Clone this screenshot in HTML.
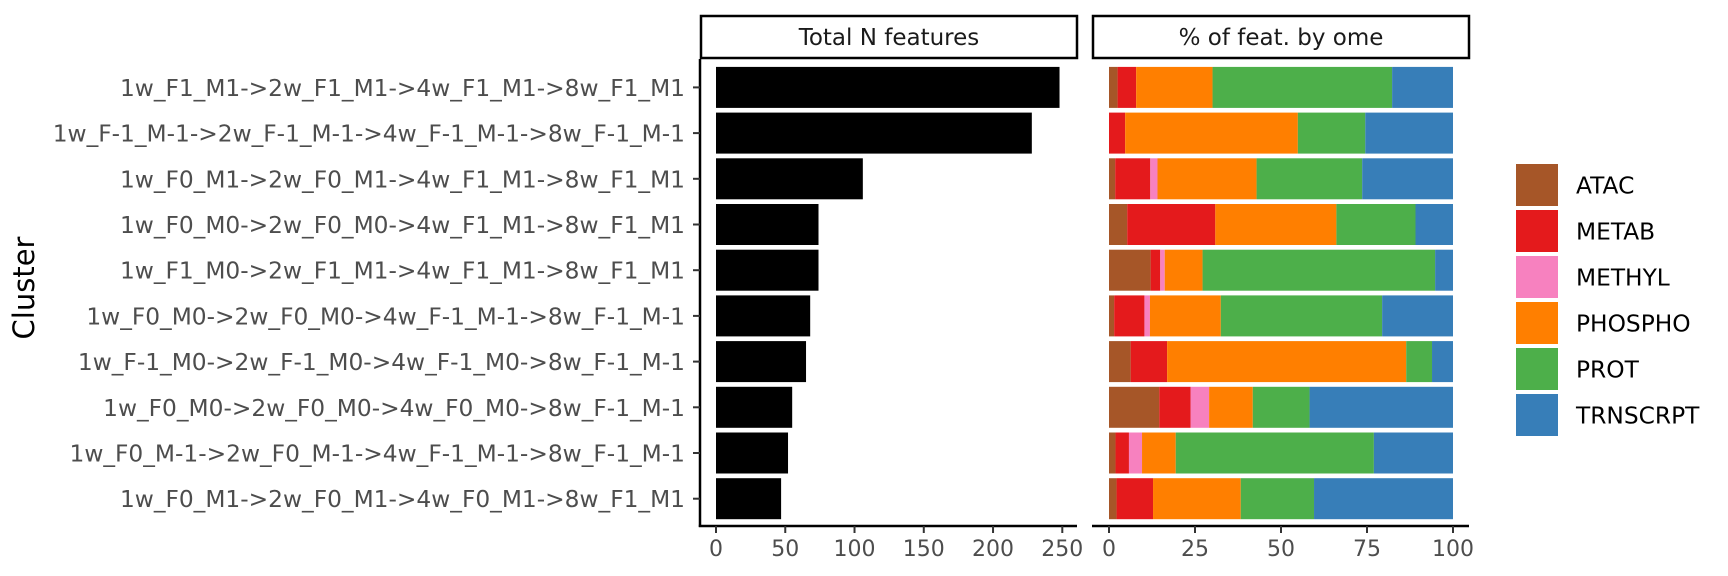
<!DOCTYPE html>
<html><head><meta charset="utf-8">
<style>
html,body{margin:0;padding:0;background:#fff;}
svg{display:block;font-family:"DejaVu Sans","Liberation Sans",sans-serif;}
</style></head>
<body>
<svg id="chart" width="1728" height="576" viewBox="0 0 1728 576" xmlns="http://www.w3.org/2000/svg">
  <text x="0" y="0" transform="translate(34,288) rotate(-90)" text-anchor="middle" font-size="29" fill="#000">Cluster</text>
  <g>
    <rect x="701" y="16" width="376" height="42" fill="#fff" stroke="#000" stroke-width="2.5"/>
    <text x="889" y="45" text-anchor="middle" font-size="23" fill="#1a1a1a">Total N features</text>
  </g>
  <g>
    <rect x="1093" y="16" width="376" height="42" fill="#fff" stroke="#000" stroke-width="2.5"/>
    <text x="1281" y="45" text-anchor="middle" font-size="23" fill="#1a1a1a">% of feat. by ome</text>
  </g>
  <g id="left"></g>
  <g id="right"></g>
  <g id="ylabels"></g>
  <g id="legend"></g>
</svg>
<script>
const categories = [
"1w_F1_M1->2w_F1_M1->4w_F1_M1->8w_F1_M1",
"1w_F-1_M-1->2w_F-1_M-1->4w_F-1_M-1->8w_F-1_M-1",
"1w_F0_M1->2w_F0_M1->4w_F1_M1->8w_F1_M1",
"1w_F0_M0->2w_F0_M0->4w_F1_M1->8w_F1_M1",
"1w_F1_M0->2w_F1_M1->4w_F1_M1->8w_F1_M1",
"1w_F0_M0->2w_F0_M0->4w_F-1_M-1->8w_F-1_M-1",
"1w_F-1_M0->2w_F-1_M0->4w_F-1_M0->8w_F-1_M-1",
"1w_F0_M0->2w_F0_M0->4w_F0_M0->8w_F-1_M-1",
"1w_F0_M-1->2w_F0_M-1->4w_F-1_M-1->8w_F-1_M-1",
"1w_F0_M1->2w_F0_M1->4w_F0_M1->8w_F1_M1"];
const totals = [248, 228, 106, 74, 74, 68, 65, 55, 52, 47];
const omes = ["ATAC","METAB","METHYL","PHOSPHO","PROT","TRNSCRPT"];
const omeColors = ["#A65628","#E41A1C","#F781BF","#FF7F00","#4DAF4A","#377EB8"];
const pctATAC = [2.5,0,1.8,5.3,12.1,1.5,6.3,14.6,1.9,2.2];
const pctMETAB = [5.4,4.7,10.2,25.6,2.8,8.8,10.6,9.1,3.9,10.6];
const pctMETHYL = [0,0,2.1,0,1.3,1.6,0,5.4,3.8,0];
const pctPHOSPHO = [22.2,50.2,28.8,35.2,11.0,20.6,69.5,12.7,9.8,25.5];
const pctPROT = [52.2,19.6,30.7,23.0,67.6,46.9,7.5,16.5,57.6,21.3];
const pctTRN = [17.7,25.5,26.4,10.9,5.2,20.6,6.1,41.7,23.0,40.4];
const totalTicks = [0,50,100,150,200,250];
const pctTicks = [0,25,50,75,100];

const NS = "http://www.w3.org/2000/svg";
function mk(tag, attrs, parent){const e=document.createElementNS(NS,tag);for(const k in attrs)e.setAttribute(k,attrs[k]);parent.appendChild(e);return e;}
const rowY = i => 87.4 + i*45.7;
const barH = 41;
const xL = v => 716 + v*(346.3/250);
const xR = v => 1109 + v*(344/100);
const axisY = 526;

const left = document.getElementById('left');
const right = document.getElementById('right');
const ylab = document.getElementById('ylabels');
const legend = document.getElementById('legend');

let ln = mk('line',{x1:700,y1:59,x2:700,y2:axisY+1,stroke:'#000','stroke-width':2.5},left);


ln = mk('line',{x1:698.8,y1:axisY,x2:1077,y2:axisY,stroke:'#000','stroke-width':2.5},left);


ln = mk('line',{x1:1092,y1:axisY,x2:1469,y2:axisY,stroke:'#000','stroke-width':2.5},right);



categories.forEach((c,i)=>{
  const y = rowY(i);
  const t = mk('text',{x:685,y:y+8.5,'text-anchor':'end','font-size':23.3,fill:'#4d4d4d'},ylab);
  t.textContent = c;
  
  
  const tk = mk('line',{x1:693,y1:y,x2:700,y2:y,stroke:'#333','stroke-width':2},ylab);
  
  
  const b = mk('rect',{x:xL(0),y:y-barH/2,width:xL(totals[i])-xL(0),height:barH,fill:'#000'},left);
  
  
  const series=[pctATAC,pctMETAB,pctMETHYL,pctPHOSPHO,pctPROT,pctTRN];
  let acc=0;
  series.forEach((s,k)=>{
    const v=s[i]; if(v<=0) return;
    const seg = mk('rect',{x:xR(acc),y:y-barH/2,width:xR(acc+v)-xR(acc),height:barH,fill:omeColors[k]},right);
    
    
    acc+=v;
  });
});

totalTicks.forEach(v=>{
  const tk = mk('line',{x1:xL(v),y1:axisY,x2:xL(v),y2:axisY+7,stroke:'#333','stroke-width':2},left);
  
  
  const t = mk('text',{x:xL(v),y:556,'text-anchor':'middle','font-size':22,fill:'#4d4d4d'},left);
  t.textContent=v;
  
  
});
pctTicks.forEach(v=>{
  const tk = mk('line',{x1:xR(v),y1:axisY,x2:xR(v),y2:axisY+7,stroke:'#333','stroke-width':2},right);
  
  
  const t = mk('text',{x:xR(v),y:556,'text-anchor':'middle','font-size':22,fill:'#4d4d4d'},right);
  t.textContent=v;
  
  
});

omes.forEach((o,k)=>{
  const y = 164 + k*46;
  const r = mk('rect',{x:1516,y:y,width:42,height:42,fill:omeColors[k]},legend);
  
  
  const t = mk('text',{x:1576,y:y+29.5,'font-size':23.3,fill:'#000'},legend);
  t.textContent=o;
  
  
});
</script>
</body></html>
